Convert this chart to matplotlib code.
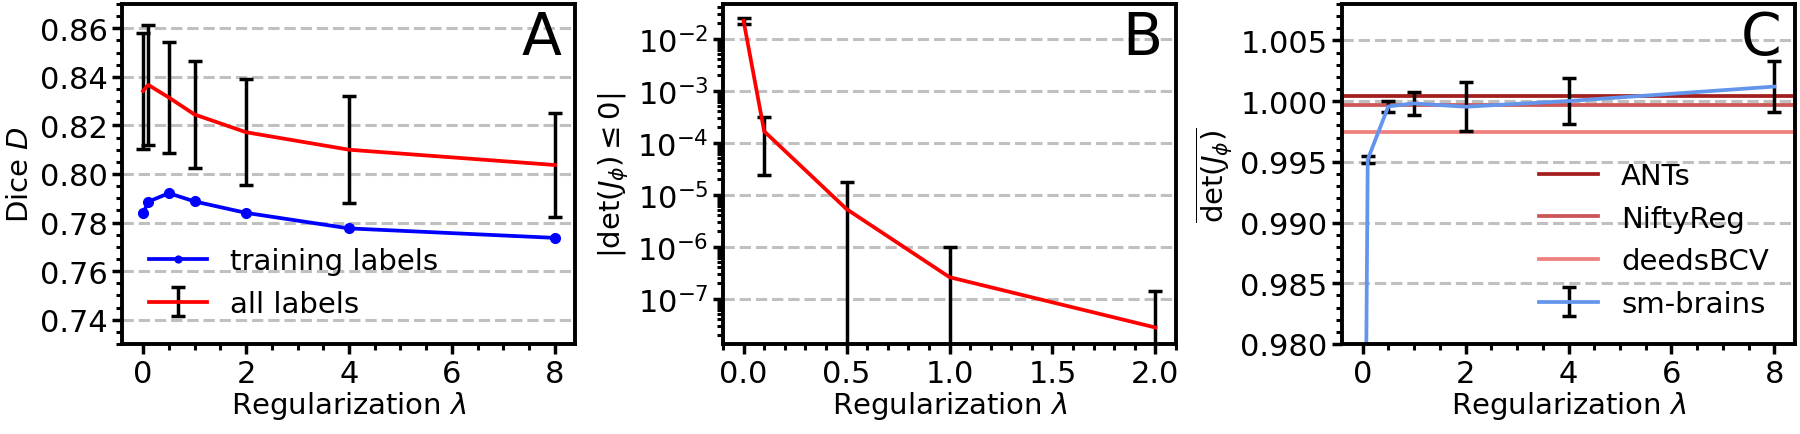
import numpy as np
import matplotlib
matplotlib.use("Agg")
import matplotlib.pyplot as plt
from matplotlib.ticker import MultipleLocator, LogLocator, FormatStrFormatter

# regularization weights
lam = [0, 0.1, 0.5, 1, 2, 4, 8]
lam_b = [0, 0.1, 0.5, 1, 2]

# panel A: Dice scores
dice_train = [0.7838, 0.7886, 0.7921, 0.7887, 0.7840, 0.7776, 0.7737]
dice_all = [0.8342, 0.8367, 0.8315, 0.8245, 0.8172, 0.8100, 0.8037]
dice_all_std = [0.0237, 0.0247, 0.0230, 0.0219, 0.0218, 0.0220, 0.0216]

# panel B: fraction of folding voxels
neg_det = [2.2e-2, 1.66e-4, 5.3e-6, 2.6e-7, 2.8e-8]
neg_det_std = [2.5e-3, 1.42e-4, 1.24e-5, 7.5e-7, 1.1e-7]

# panel C: mean Jacobian determinant
mean_det = [0.94, 0.9952, 0.99957, 0.99981, 0.99954, 1.00001, 1.0012]
mean_det_std = [0.02, 0.0003, 0.00048, 0.00095, 0.00203, 0.00192, 0.00209]
baseline_names = ["ANTs", "NiftyReg", "deedsBCV"]
baseline_vals = [1.00044, 0.99972, 0.99744]
baseline_cols = ["#a31f1f", "#cd5555", "#f08080"]

fs = 21
tfs = 22
lw = 2.7
plt.rcParams['font.size'] = fs
plt.rcParams['axes.linewidth'] = 2.8

fig = plt.figure(figsize=(18, 4.35), dpi=100)
w = 453 / 1800
b = 1 - 345 / 435
h = 340 / 435
axA = fig.add_axes([122.5 / 1800, b, w, h])
axB = fig.add_axes([723 / 1800, b, w, h])
axC = fig.add_axes([1342 / 1800, b, w, h])

ebkw = dict(ecolor='k', elinewidth=2.5, capsize=5, capthick=2.5)


def style(ax, letter):
    ax.minorticks_on()
    ax.tick_params(which='major', length=7, width=2.5, labelsize=tfs)
    ax.tick_params(which='minor', length=4, width=2.2)
    ax.yaxis.grid(True, which='major', ls='--', lw=2.2, color='silver')
    ax.set_xlabel(r'Regularization $\lambda$', fontsize=fs, labelpad=1)
    ax.text(0.97, 0.985, letter, transform=ax.transAxes, ha='right',
            va='top', fontsize=42)


# A
axA.plot(lam, dice_train, 'b-o', lw=lw, ms=7, label='training labels')
axA.errorbar(lam, dice_all, yerr=dice_all_std, color='r', lw=lw,
             label='all labels', **ebkw)
axA.set_ylim(0.73, 0.87)
axA.set_xlim(-0.4, 8.4)
axA.legend(loc='lower left', frameon=False, fontsize=fs, numpoints=1,
           markerscale=0.7)
style(axA, 'A')
axA.xaxis.set_major_locator(MultipleLocator(2))
axA.xaxis.set_minor_locator(MultipleLocator(0.5))
axA.yaxis.set_major_locator(MultipleLocator(0.02))
axA.yaxis.set_minor_locator(MultipleLocator(0.005))
axA.set_ylabel(r'Dice $D$', fontsize=fs)

# B
axB.set_yscale('log')
axB.errorbar(lam_b, neg_det, yerr=neg_det_std, color='r', lw=lw, **ebkw)
axB.set_ylim(1.35e-8, 4.65e-2)
style(axB, 'B')
axB.xaxis.set_major_locator(MultipleLocator(0.5))
axB.xaxis.set_minor_locator(MultipleLocator(0.1))
axB.yaxis.set_major_locator(LogLocator(base=10, numticks=20))
axB.yaxis.set_minor_locator(LogLocator(base=10, subs=np.arange(2, 10), numticks=20))
axB.set_ylabel(r'$|\det(J_\phi) \leq 0|$', fontsize=fs)

# C
for name, val, col in zip(baseline_names, baseline_vals, baseline_cols):
    axC.axhline(val, color=col, lw=lw, label=name)
axC.errorbar(lam, mean_det, yerr=mean_det_std, color='cornflowerblue',
             lw=lw, label='sm-brains', **ebkw)
axC.set_ylim(0.98, 1.008)
axC.set_xlim(-0.4, 8.4)
axC.legend(loc='lower right', frameon=False, fontsize=fs)
style(axC, 'C')
axC.xaxis.set_major_locator(MultipleLocator(2))
axC.xaxis.set_minor_locator(MultipleLocator(0.5))
axC.yaxis.set_major_locator(MultipleLocator(0.005))
axC.yaxis.set_minor_locator(MultipleLocator(0.001))
axC.yaxis.set_major_formatter(FormatStrFormatter('%.3f'))
axC.set_ylabel(r'$\overline{\det(J_\phi)}$', fontsize=fs)

fig.savefig('out.png', dpi=100)
